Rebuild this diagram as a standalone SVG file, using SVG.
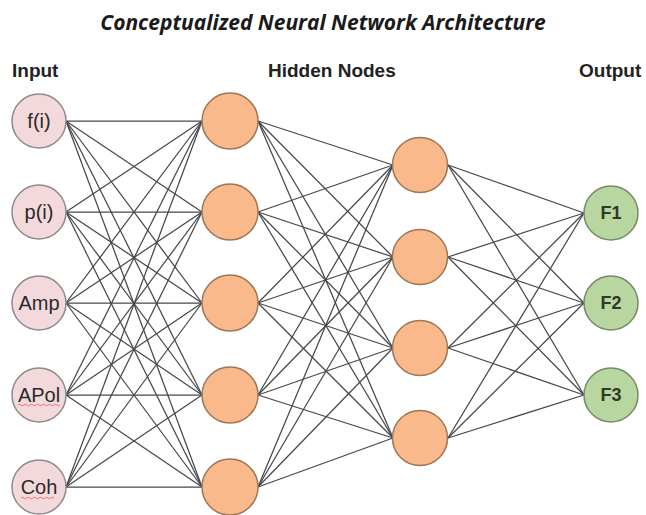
<svg xmlns="http://www.w3.org/2000/svg" width="646" height="515" viewBox="0 0 646 515">
  <style>
    .title { font-family: "Open Sans", "Liberation Sans", sans-serif; font-weight: bold; font-style: italic; font-size: 21px; fill: #1a1a1a; }
    .layer { font-family: "Liberation Sans", Arial, sans-serif; font-weight: bold; font-size: 19px; fill: #222; }
    .lbl { font-family: "Liberation Sans", Arial, sans-serif; font-size: 20px; fill: #2a2a2a; text-anchor: middle; dominant-baseline: central; }
    .out-lbl { font-weight: bold; font-size: 18px; fill: #2f3a28; }
    .in { fill: #f4d9dc; stroke: #8f8a8a; stroke-width: 1.5; }
    .hid { fill: #f9b98a; stroke: #9c7656; stroke-width: 1.5; }
    .out { fill: #b8d69f; stroke: #768a66; stroke-width: 1.5; }
    .edges line { stroke: #45484c; stroke-width: 1.25; }
    .squiggle { fill: none; stroke: #d9534f; stroke-width: 1; opacity: 0.7; }
  </style>

  <rect width="646" height="515" fill="#ffffff"/>

  <text class="title" x="323" y="30" text-anchor="middle">Conceptualized Neural Network Architecture</text>
  <text class="layer" x="12" y="77">Input</text>
  <text class="layer" x="268" y="77">Hidden Nodes</text>
  <text class="layer" x="579" y="77">Output</text>

  <!-- connections: input (right edge x=66) to hidden layer 1 (left edge x=202) -->
  <g id="connectors" class="edges">
    <g id="input-to-h1">
      <line x1="66" y1="121" x2="202" y2="121"/><line x1="66" y1="121" x2="202" y2="212"/><line x1="66" y1="121" x2="202" y2="303"/><line x1="66" y1="121" x2="202" y2="395"/><line x1="66" y1="121" x2="202" y2="487"/>
      <line x1="66" y1="212" x2="202" y2="121"/><line x1="66" y1="212" x2="202" y2="212"/><line x1="66" y1="212" x2="202" y2="303"/><line x1="66" y1="212" x2="202" y2="395"/><line x1="66" y1="212" x2="202" y2="487"/>
      <line x1="66" y1="303" x2="202" y2="121"/><line x1="66" y1="303" x2="202" y2="212"/><line x1="66" y1="303" x2="202" y2="303"/><line x1="66" y1="303" x2="202" y2="395"/><line x1="66" y1="303" x2="202" y2="487"/>
      <line x1="66" y1="395" x2="202" y2="121"/><line x1="66" y1="395" x2="202" y2="212"/><line x1="66" y1="395" x2="202" y2="303"/><line x1="66" y1="395" x2="202" y2="395"/><line x1="66" y1="395" x2="202" y2="487"/>
      <line x1="66" y1="487" x2="202" y2="121"/><line x1="66" y1="487" x2="202" y2="212"/><line x1="66" y1="487" x2="202" y2="303"/><line x1="66" y1="487" x2="202" y2="395"/><line x1="66" y1="487" x2="202" y2="487"/>
    </g>
    <!-- hidden layer 1 (right edge x=258) to hidden layer 2 (left edge x=393) -->
    <g id="h1-to-h2">
      <line x1="258" y1="121" x2="393" y2="165"/><line x1="258" y1="121" x2="393" y2="257"/><line x1="258" y1="121" x2="393" y2="348"/><line x1="258" y1="121" x2="393" y2="438"/>
      <line x1="258" y1="212" x2="393" y2="165"/><line x1="258" y1="212" x2="393" y2="257"/><line x1="258" y1="212" x2="393" y2="348"/><line x1="258" y1="212" x2="393" y2="438"/>
      <line x1="258" y1="303" x2="393" y2="165"/><line x1="258" y1="303" x2="393" y2="257"/><line x1="258" y1="303" x2="393" y2="348"/><line x1="258" y1="303" x2="393" y2="438"/>
      <line x1="258" y1="395" x2="393" y2="165"/><line x1="258" y1="395" x2="393" y2="257"/><line x1="258" y1="395" x2="393" y2="348"/><line x1="258" y1="395" x2="393" y2="438"/>
      <line x1="258" y1="487" x2="393" y2="165"/><line x1="258" y1="487" x2="393" y2="257"/><line x1="258" y1="487" x2="393" y2="348"/><line x1="258" y1="487" x2="393" y2="438"/>
    </g>
    <!-- hidden layer 2 (right edge x=448) to output (left edge x=584) -->
    <g id="h2-to-out">
      <line x1="448" y1="165" x2="584" y2="213"/><line x1="448" y1="165" x2="584" y2="303"/><line x1="448" y1="165" x2="584" y2="395"/>
      <line x1="448" y1="257" x2="584" y2="213"/><line x1="448" y1="257" x2="584" y2="303"/><line x1="448" y1="257" x2="584" y2="395"/>
      <line x1="448" y1="348" x2="584" y2="213"/><line x1="448" y1="348" x2="584" y2="303"/><line x1="448" y1="348" x2="584" y2="395"/>
      <line x1="448" y1="438" x2="584" y2="213"/><line x1="448" y1="438" x2="584" y2="303"/><line x1="448" y1="438" x2="584" y2="395"/>
    </g>
  </g>

  <!-- input layer -->
  <g id="in-f"><circle class="in" cx="39" cy="121" r="27"/><text class="lbl" x="39" y="121">f(i)</text></g>
  <g id="in-p"><circle class="in" cx="39" cy="212" r="27"/><text class="lbl" x="39" y="212">p(i)</text></g>
  <g id="in-amp"><circle class="in" cx="39" cy="303" r="27"/><text class="lbl" x="39" y="303">Amp</text></g>
  <g id="in-apol"><circle class="in" cx="39" cy="395" r="27"/><text class="lbl" x="39" y="395">APol</text>
    <path class="squiggle" d="M18 405 q1.5 -1.5 3 0 t3 0 t3 0 t3 0 t3 0 t3 0 t3 0 t3 0 t3 0 t3 0 t3 0 t3 0 t3 0 t3 0"/></g>
  <g id="in-coh"><circle class="in" cx="39" cy="487" r="27"/><text class="lbl" x="39" y="487">Coh</text>
    <path class="squiggle" d="M21 498 q1.5 -1.5 3 0 t3 0 t3 0 t3 0 t3 0 t3 0 t3 0 t3 0 t3 0 t3 0 t3 0"/></g>

  <!-- hidden layer 1 -->
  <g id="h1-1"><circle class="hid" cx="230" cy="121" r="28"/></g>
  <g id="h1-2"><circle class="hid" cx="230" cy="212" r="28"/></g>
  <g id="h1-3"><circle class="hid" cx="230" cy="303" r="28"/></g>
  <g id="h1-4"><circle class="hid" cx="230" cy="395" r="28"/></g>
  <g id="h1-5"><circle class="hid" cx="230" cy="487" r="28"/></g>

  <!-- hidden layer 2 -->
  <g id="h2-1"><circle class="hid" cx="420" cy="165" r="27.5"/></g>
  <g id="h2-2"><circle class="hid" cx="420" cy="257" r="27.5"/></g>
  <g id="h2-3"><circle class="hid" cx="420" cy="348" r="27.5"/></g>
  <g id="h2-4"><circle class="hid" cx="420" cy="438" r="27.5"/></g>

  <!-- output layer -->
  <g id="out-f1"><circle class="out" cx="611" cy="213" r="27"/><text class="lbl out-lbl" x="611" y="213">F1</text></g>
  <g id="out-f2"><circle class="out" cx="611" cy="303" r="27"/><text class="lbl out-lbl" x="611" y="303">F2</text></g>
  <g id="out-f3"><circle class="out" cx="611" cy="395" r="27"/><text class="lbl out-lbl" x="611" y="395">F3</text></g>
</svg>
